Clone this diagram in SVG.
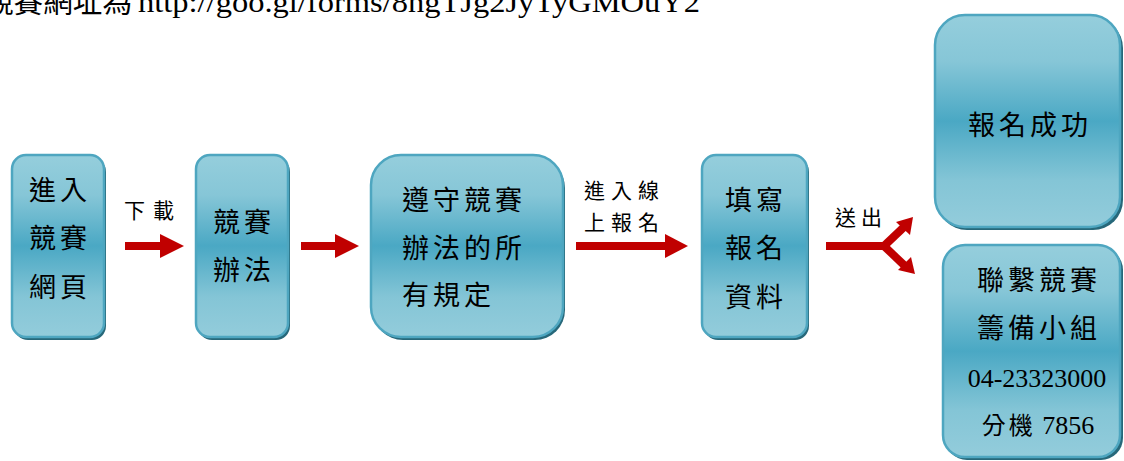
<svg xmlns="http://www.w3.org/2000/svg" width="1124" height="461" viewBox="0 0 1124 461">
<defs>
<linearGradient id="g" x1="0" y1="0" x2="0" y2="1">
<stop offset="0" stop-color="#95cedc"/>
<stop offset="0.22" stop-color="#86c6d7"/>
<stop offset="0.5" stop-color="#4aa8c4"/>
<stop offset="0.78" stop-color="#84c5d6"/>
<stop offset="1" stop-color="#93ccdb"/>
</linearGradient>
</defs>
<style>
.sh{fill:#27687a}
.bx{fill:url(#g);stroke:#4ea6c0;stroke-width:2.5}
.t{font-family:"Liberation Serif","Noto Sans CJK TC",serif;fill:#000}
.n{font-size:27px;letter-spacing:4px}
.l{font-size:21px}
.ar{fill:#c00000}
.br{fill:none;stroke:#c00000;stroke-width:8}
</style>
<rect width="1124" height="461" fill="#ffffff"/>
<text class="t" y="12" font-size="30"><tspan x="-16" textLength="148" lengthAdjust="spacingAndGlyphs">競賽網址為</tspan><tspan x="138" textLength="562" lengthAdjust="spacingAndGlyphs">http://goo.gl/forms/8ngTJg2JyTyGMOuY2</tspan></text>
<g id="connectors">
<rect class="ar" x="125" y="242" width="36" height="8"/>
<polygon class="ar" points="160,234 184,246 160,258"/>
<rect class="ar" x="301" y="242" width="35" height="8"/>
<polygon class="ar" points="335,234 359,246 335,258"/>
<rect class="ar" x="576" y="242" width="90" height="8"/>
<polygon class="ar" points="665,234 688,246 665,258"/>
<rect class="ar" x="826" y="242" width="60" height="8"/>
<path class="br" d="M884,246 L904,227"/>
<path class="br" d="M884,246 L905,266"/>
<polygon class="ar" points="913,217 910,235 896,222"/>
<polygon class="ar" points="915,274 898,270 911,257"/>
<text class="t l" x="124" y="218" letter-spacing="8">下載</text>
<text class="t l" x="584" y="198" font-size="22" letter-spacing="6">進入線</text>
<text class="t l" x="584" y="230" font-size="22" letter-spacing="6">上報名</text>
<text class="t l" x="835" y="225" letter-spacing="5">送出</text>
</g>
<g id="n1">
<rect class="sh" x="14" y="158" width="92" height="182" rx="14"/>
<rect class="bx" x="12" y="155" width="92" height="182" rx="14"/>
<text class="t n" x="60" y="200" text-anchor="middle">進入</text>
<text class="t n" x="60" y="248" text-anchor="middle">競賽</text>
<text class="t n" x="60" y="297" text-anchor="middle">網頁</text>
</g>
<g id="n2">
<rect class="sh" x="198" y="158" width="92" height="182" rx="14"/>
<rect class="bx" x="196" y="155" width="92" height="182" rx="14"/>
<text class="t n" x="244" y="232" text-anchor="middle">競賽</text>
<text class="t n" x="244" y="280" text-anchor="middle">辦法</text>
</g>
<g id="n3">
<rect class="sh" x="373" y="158" width="192" height="182" rx="30"/>
<rect class="bx" x="371" y="155" width="192" height="182" rx="30"/>
<text class="t n" x="402" y="210">遵守競賽</text>
<text class="t n" x="402" y="258">辦法的所</text>
<text class="t n" x="402" y="305">有規定</text>
</g>
<g id="n4">
<rect class="sh" x="704" y="158" width="105" height="182" rx="14"/>
<rect class="bx" x="702" y="155" width="105" height="182" rx="14"/>
<text class="t n" x="756" y="210" text-anchor="middle">填寫</text>
<text class="t n" x="756" y="258" text-anchor="middle">報名</text>
<text class="t n" x="756" y="307" text-anchor="middle">資料</text>
</g>
<g id="n5">
<rect class="sh" x="937" y="18" width="186" height="212" rx="30"/>
<rect class="bx" x="935" y="15" width="185" height="212" rx="30"/>
<text class="t n" x="1030" y="135" text-anchor="middle">報名成功</text>
</g>
<g id="n6">
<rect class="sh" x="945" y="248" width="178" height="212" rx="22"/>
<rect class="bx" x="943" y="245" width="177" height="212" rx="22"/>
<text class="t n" x="1039" y="290" text-anchor="middle">聯繫競賽</text>
<text class="t n" x="1039" y="338" text-anchor="middle">籌備小組</text>
<text class="t" x="1037" y="387" font-size="26" text-anchor="middle">04-23323000</text>
<text class="t" x="1038" y="434" font-size="26" text-anchor="middle"><tspan font-size="24" letter-spacing="3">分機</tspan> 7856</text>
</g>
</svg>
